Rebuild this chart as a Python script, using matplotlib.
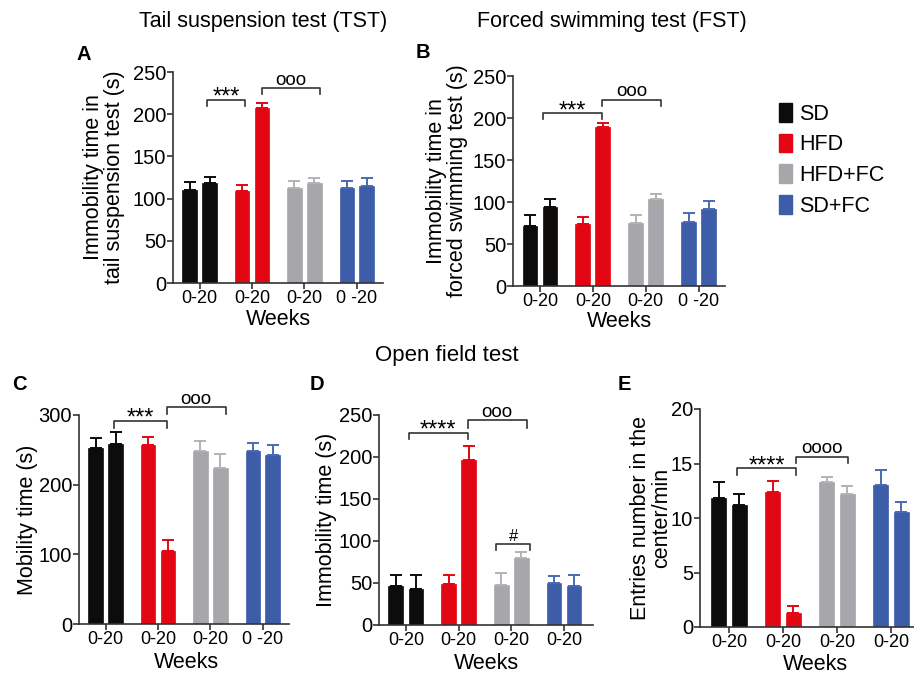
import matplotlib
matplotlib.use("Agg")
import matplotlib.pyplot as plt
from matplotlib.patches import Patch
import numpy as np

plt.rcParams['font.family'] = ['Liberation Sans', 'DejaVu Sans']

groups = ["SD", "HFD", "HFD+FC", "SD+FC"]
colors = ["#0e0c0a", "#e30613", "#a7a6aa", "#3d5da9"]
err_colors = ["#0e0c0a", "#e30613", "#b3b2b6", "#4a69b3"]

# Panel A: tail suspension test immobility (s)
tst_w0 = [110, 109, 113, 113]
tst_w0_err = [10, 7, 8, 7.5]
tst_w20 = [119, 207, 119, 115]
tst_w20_err = [7, 6.5, 6, 9]

# Panel B: forced swimming test immobility (s)
fst_w0 = [72, 73.5, 75, 76.7]
fst_w0_err = [12, 8.5, 10, 10.7]
fst_w20 = [94.6, 188.8, 103.3, 92]
fst_w20_err = [9, 5.6, 6.4, 8.6]

# Panel C: open field mobility time (s)
mob_w0 = [253, 257, 248, 249]
mob_w0_err = [13.5, 11, 14, 11]
mob_w20 = [258, 105, 224, 243]
mob_w20_err = [17.6, 15.6, 19.5, 14]

# Panel D: open field immobility time (s)
imm_w0 = [47, 49, 48, 49.6]
imm_w0_err = [13, 11, 13.5, 9]
imm_w20 = [43, 197, 79.4, 46]
imm_w20_err = [17, 15.7, 7.6, 14]

# Panel E: entries number in the center/min
ent_w0 = [11.84, 12.42, 13.3, 13.07]
ent_w0_err = [1.5, 1.0, 0.47, 1.29]
ent_w20 = [11.2, 1.29, 12.18, 10.55]
ent_w20_err = [1.04, 0.64, 0.8, 0.92]

tick_labels_a = ["0-20", "0-20", "0-20", "0 -20"]
tick_labels_b = ["0-20", "0-20", "0-20", "0-20"]

W, H = 914, 673
fig = plt.figure(figsize=(W / 100, H / 100), dpi=100)


def px_axes(l, r, t, b):
    return fig.add_axes([l / W, 1 - b / H, (r - l) / W, (b - t) / H])


def draw_panel(ax, w0, e0, w20, e20, ylim, yticks, ylabel, ticklabels, xlim,
               ylab_x, xlab_y, xlab_x=0.5):
    x = np.arange(len(groups))
    off, bw = 0.19, 0.28
    for i in range(len(groups)):
        for xx, v, e in ((x[i] - off, w0[i], e0[i]), (x[i] + off, w20[i], e20[i])):
            ax.bar(xx, v, width=bw, color=colors[i], edgecolor=colors[i], linewidth=0.5, zorder=2)
            ax.errorbar(xx, v, yerr=[[0], [e]], fmt='none', ecolor=err_colors[i],
                        elinewidth=1.4, capsize=4.5, capthick=1.4, zorder=3)
    ax.set_xlim(*xlim)
    ax.set_ylim(*ylim)
    ax.set_yticks(yticks)
    ax.set_xticks(x)
    ax.set_xticklabels(ticklabels, fontsize=13)
    ax.tick_params(axis='y', labelsize=14.5, length=4, width=1.2, color='#333333', pad=1)
    ax.tick_params(axis='x', length=4, width=1.2, color='#333333', pad=1)
    for s in ('top', 'right'):
        ax.spines[s].set_visible(False)
    for s in ('left', 'bottom'):
        ax.spines[s].set_linewidth(1.2)
        ax.spines[s].set_color('#333333')
    ax.set_ylabel(ylabel, fontsize=15.5, va='center', linespacing=1.0)
    ax.yaxis.set_label_coords(ylab_x, 0.5)
    ax.set_xlabel("Weeks", fontsize=15.5, va='center')
    ax.xaxis.set_label_coords(xlab_x, xlab_y)


def bracket(ax, x1, x2, y, h, text, fs=14, off_pt=0.0):
    ax.plot([x1, x1, x2, x2], [y - h, y, y, y - h], color='#333333', lw=1.2,
            clip_on=False, zorder=4)
    ax.annotate(text, xy=((x1 + x2) / 2, y), xytext=(0, off_pt), textcoords='offset points',
                ha='center', va='bottom', fontsize=fs, annotation_clip=False)


STAR_FS, STAR_OFF = 17, -6.5
CIRC_FS, CIRC_OFF = 13.5, -0.5

# Panel A
axA = px_axes(173, 383, 72, 283)
draw_panel(axA, tst_w0, tst_w0_err, tst_w20, tst_w20_err, (0, 250), range(0, 251, 50),
           "Immobility time in\ntail suspension test (s)", tick_labels_a, (-0.51, 3.5),
           -0.33, -0.172)
bracket(axA, 0.13, 0.87, 217, 7, "***", STAR_FS, STAR_OFF)
bracket(axA, 1.19, 2.30, 231, 7, "ooo", CIRC_FS, CIRC_OFF)

# Panel B
axB = px_axes(513, 725, 76, 286)
draw_panel(axB, fst_w0, fst_w0_err, fst_w20, fst_w20_err, (0, 250), range(0, 251, 50),
           "Immobility time in\nforced swimming test (s)", tick_labels_a, (-0.51, 3.5),
           -0.31, -0.168)
bracket(axB, 0.05, 1.18, 205.5, 7, "***", STAR_FS, STAR_OFF)
bracket(axB, 1.18, 2.28, 222, 8, "ooo", CIRC_FS, CIRC_OFF)

# Panel C
axC = px_axes(79, 289, 415, 624)
draw_panel(axC, mob_w0, mob_w0_err, mob_w20, mob_w20_err, (0, 300), range(0, 301, 100),
           "Mobility time (s)", tick_labels_a, (-0.51, 3.5), -0.245, -0.185, 0.51)
bracket(axC, 0.15, 1.17, 292, 10, "***", STAR_FS, STAR_OFF)
bracket(axC, 1.17, 2.29, 311, 10, "ooo", CIRC_FS, CIRC_OFF)

# Panel D
axD = px_axes(379, 593, 415, 625)
draw_panel(axD, imm_w0, imm_w0_err, imm_w20, imm_w20_err, (0, 250), range(0, 251, 50),
           "Immobility time (s)", tick_labels_b, (-0.51, 3.55), -0.245, -0.182)
bracket(axD, 0.06, 1.17, 229, 8, "****", STAR_FS, STAR_OFF)
bracket(axD, 1.17, 2.29, 244, 10, "ooo", CIRC_FS, CIRC_OFF)
bracket(axD, 1.71, 2.36, 97, 8, "#", 12, 0)

# Panel E
axE = px_axes(700, 914, 409, 627)
draw_panel(axE, ent_w0, ent_w0_err, ent_w20, ent_w20_err, (0, 20), range(0, 21, 5),
           "Entries number in the\ncenter/min", tick_labels_b, (-0.54, 3.43),
           -0.23, -0.17, 0.54)
bracket(axE, 0.15, 1.25, 14.57, 0.6, "****", STAR_FS, STAR_OFF)
bracket(axE, 1.25, 2.20, 15.64, 0.6, "oooo", CIRC_FS, CIRC_OFF)

# Titles and panel letters
fig.text(263 / W, 1 - 22 / H, "Tail suspension test (TST)", ha='center', va='center', fontsize=15.5)
fig.text(612 / W, 1 - 22 / H, "Forced swimming test (FST)", ha='center', va='center', fontsize=15.5)
fig.text(447 / W, 1 - 355 / H, "Open field test", ha='center', va='center', fontsize=16)
for letter, xp, yp in (("A", 84, 55), ("B", 423, 53), ("C", 19, 385), ("D", 317, 385), ("E", 624, 385)):
    fig.text(xp / W, 1 - yp / H, letter, ha='center', va='center', fontsize=14.5, fontweight='bold')

# Legend
handles = [Patch(facecolor=c, edgecolor=c) for c in colors]
fig.legend(handles, groups, loc='upper left', bbox_to_anchor=(779 / W, 1 - 103 / H),
           frameon=False, fontsize=15.5, handlelength=0.62, handleheight=0.95,
           handletextpad=0.3, labelspacing=0.42, borderaxespad=0, borderpad=0)

fig.savefig("out.png", dpi=100)
